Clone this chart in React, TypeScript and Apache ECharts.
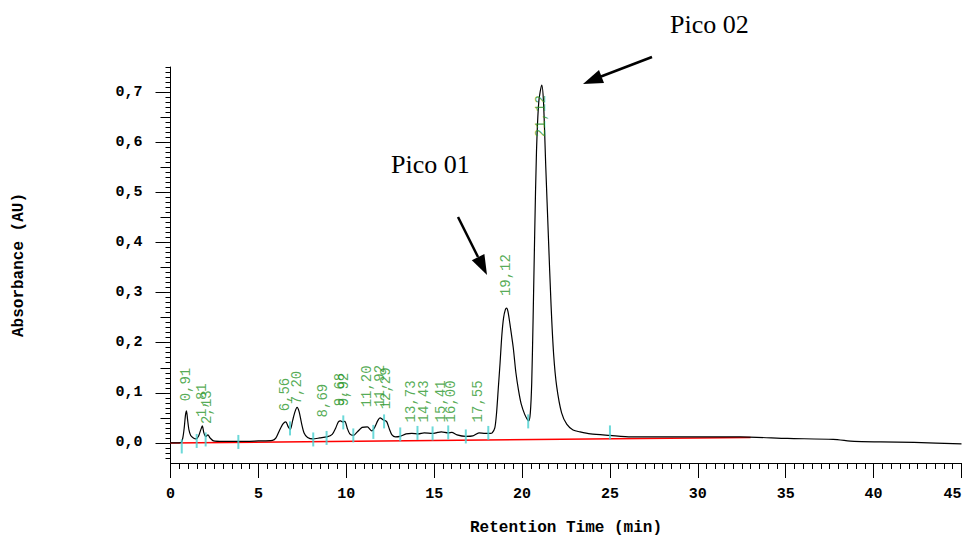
import React, { useEffect, useRef } from "react";
import * as echarts from "echarts";

// Chromatogram trace (retention time in min, absorbance in AU)
const times = [
  0.0, 0.3, 0.6, 0.7, 0.78, 0.85, 0.91, 0.97, 1.05, 1.15, 1.3, 1.45, 1.6, 1.72, 1.81, 1.9, 2.0, 2.13, 2.25, 2.45,
  3.0, 4.0, 5.0, 5.8, 6.0, 6.2, 6.4, 6.56, 6.7, 6.82, 6.95, 7.08, 7.2, 7.32, 7.45, 7.6, 7.8, 8.1, 8.5, 8.9,
  9.2, 9.4, 9.55, 9.68, 9.8, 9.92, 10.05, 10.2, 10.4, 10.6, 10.9, 11.2, 11.45, 11.6, 11.8, 11.92, 12.1, 12.29, 12.45, 12.6,
  12.8, 13.05, 13.4, 13.73, 14.1, 14.43, 14.9, 15.2, 15.41, 15.8, 16.0, 16.3, 16.8, 17.2, 17.55, 17.9, 18.2, 18.3, 18.45, 18.55,
  18.65, 18.75, 18.85, 18.95, 19.05, 19.12, 19.2, 19.32, 19.5, 19.65, 19.8, 19.95, 20.15, 20.3, 20.38, 20.47, 20.55, 20.63, 20.72, 20.82,
  20.95, 21.12, 21.22, 21.35, 21.5, 21.65, 21.8, 21.97, 22.25, 22.55, 22.9, 23.3, 23.9, 25.0, 26.2, 29.0, 32.4, 35.1, 37.7, 38.9,
  40.4, 42.3, 45.0,
];
const absorbance = [
  0.0, 0.0, 0.001, 0.01, 0.03, 0.055, 0.064, 0.047, 0.026, 0.015, 0.01, 0.008, 0.014, 0.026, 0.034, 0.02, 0.013, 0.016, 0.01, 0.004,
  0.003, 0.003, 0.004, 0.005, 0.01, 0.025, 0.038, 0.042, 0.032, 0.027, 0.045, 0.062, 0.071, 0.062, 0.04, 0.02, 0.011, 0.008, 0.01, 0.012,
  0.017, 0.03, 0.042, 0.044, 0.042, 0.043, 0.03, 0.018, 0.015, 0.021, 0.031, 0.032, 0.024, 0.03, 0.045, 0.05, 0.046, 0.043, 0.028, 0.016,
  0.012, 0.013, 0.018, 0.019, 0.018, 0.02, 0.019, 0.021, 0.022, 0.02, 0.021, 0.016, 0.013, 0.014, 0.02, 0.019, 0.019, 0.02, 0.03, 0.06,
  0.11, 0.16, 0.215, 0.25, 0.266, 0.269, 0.262, 0.235, 0.19, 0.14, 0.105, 0.078, 0.057, 0.047, 0.044, 0.06, 0.12, 0.25, 0.42, 0.58,
  0.68, 0.714, 0.68, 0.55, 0.41, 0.275, 0.175, 0.113, 0.06, 0.037, 0.026, 0.022, 0.018, 0.015, 0.012, 0.012, 0.012, 0.009, 0.007, 0.003,
  0.002, 0.001, -0.002,
];

// Integration baseline (red)
const baselineTimes = [0, 33];
const baselineValues = [0, 0.011];

// Integration event marks (cyan)
const eventTimes = [0.64, 1.49, 2.0, 3.86, 6.8, 8.12, 8.88, 9.83, 10.4, 11.54, 12.15, 13.07, 14.05, 14.91, 15.8, 16.8, 18.08, 20.35, 25.0];
const eventValues = [-0.007, 0.004, 0.007, 0.002, 0.029, 0.007, 0.01, 0.041, 0.015, 0.022, 0.043, 0.017, 0.02, 0.019, 0.021, 0.013, 0.02, 0.043, 0.021];

// Peak retention-time labels (green)
const peakLabels = ["0,91", "1,81", "2,13", "6,56", "7,20", "8,69", "9,68", "9,92", "11,20", "11,92", "12,29", "13,73", "14,43", "15,41", "16,00", "17,55", "19,12", "21,12"];
const peakTimes = [0.91, 1.81, 2.13, 6.56, 7.2, 8.69, 9.68, 9.92, 11.2, 11.92, 12.29, 13.73, 14.43, 15.41, 16.0, 17.55, 19.12, 21.12];
const peakLabelBase = [0.082, 0.051, 0.037, 0.062, 0.076, 0.05, 0.072, 0.072, 0.07, 0.071, 0.066, 0.04, 0.04, 0.04, 0.04, 0.04, 0.292, 0.609];

// Axis ticks
const yTickLabels = [0, 0.1, 0.2, 0.3, 0.4, 0.5, 0.6, 0.7];
const yMidTicks = [0.05, 0.15, 0.25, 0.35, 0.45, 0.55, 0.65];

const MONO = "'Liberation Mono', 'Courier New', monospace";
const SERIF = "'Liberation Serif', 'Times New Roman', serif";

export default function App() {
  const ref = useRef<HTMLDivElement>(null);
  useEffect(() => {
    if (!ref.current) return;
    const chart = echarts.init(ref.current, null, { renderer: "svg" });
    const yMinorTicks: number[] = [];
    for (let i = -3; i <= 75; i++) yMinorTicks.push(i / 100);
    const yMin = -0.04;
    const yMax = 0.75;
    const hiddenY = (ticks: number[], len: number) => ({
      type: "value",
      min: yMin,
      max: yMax,
      position: "left",
      axisLine: { show: false },
      axisLabel: { show: false },
      splitLine: { show: false },
      axisTick: { show: true, customValues: ticks, length: len, lineStyle: { color: "#000", width: 1 } },
    });
    chart.setOption({
      animation: false,
      backgroundColor: "#ffffff",
      grid: { left: 170.5, right: 3.5, top: 67, bottom: 74, containLabel: false, outerBoundsMode: "none" },
      xAxis: {
        type: "value",
        min: 0,
        max: 45,
        interval: 5,
        name: "Retention Time (min)",
        nameLocation: "middle",
        nameGap: 57,
        nameTextStyle: { fontFamily: MONO, fontWeight: "bold", fontSize: 16, color: "#000" },
        axisLine: { onZero: false, lineStyle: { color: "#000", width: 1 } },
        axisTick: { length: 15, lineStyle: { color: "#000" } },
        minorTick: { show: true, splitNumber: 10, length: 6, lineStyle: { color: "#000" } },
        axisLabel: {
          fontFamily: MONO,
          fontWeight: "bold",
          fontSize: 15,
          color: "#000",
          margin: 24,
          alignMaxLabel: "right",
        },
        splitLine: { show: false },
      },
      yAxis: [
        {
          type: "value",
          min: yMin,
          max: yMax,
          position: "left",
          name: "Absorbance (AU)",
          nameLocation: "middle",
          nameGap: 144,
          nameTextStyle: { fontFamily: MONO, fontWeight: "bold", fontSize: 16, color: "#000" },
          axisLine: { show: true, onZero: false, lineStyle: { color: "#000", width: 1 } },
          axisTick: { show: true, customValues: yTickLabels, length: 15, lineStyle: { color: "#000" } },
          axisLabel: {
            customValues: yTickLabels,
            fontFamily: MONO,
            fontWeight: "bold",
            fontSize: 15,
            color: "#000",
            margin: 28,
            formatter: (v: number) => v.toFixed(1).replace(".", ","),
          },
          splitLine: { show: false },
        },
        hiddenY(yMidTicks, 10),
        hiddenY(yMinorTicks, 5),
      ],
      series: [
        {
          type: "line",
          data: baselineTimes.map((t, i) => [t, baselineValues[i]]),
          symbol: "none",
          lineStyle: { color: "#ff0000", width: 1.5 },
          z: 2,
          silent: true,
        },
        {
          type: "line",
          data: times.map((t, i) => [t, absorbance[i]]),
          symbol: "none",
          smooth: 0.25,
          lineStyle: { color: "#000", width: 1.2 },
          z: 3,
          silent: true,
        },
        {
          type: "scatter",
          data: eventTimes.map((t, i) => [t, eventValues[i]]),
          symbol: "rect",
          symbolSize: [2, 14],
          itemStyle: { color: "#48d0d0" },
          z: 4,
          silent: true,
        },
        {
          type: "scatter",
          data: peakTimes.map((t, i) => [t, peakLabelBase[i]]),
          symbolSize: 1,
          itemStyle: { color: "transparent" },
          z: 5,
          silent: true,
          label: {
            show: true,
            position: [0, 0],
            rotate: 90,
            align: "left",
            verticalAlign: "middle",
            fontFamily: MONO,
            fontSize: 14,
            color: "#2a962a",
            formatter: (p: any) => peakLabels[p.dataIndex],
          },
        },
      ],
      graphic: [
        { type: "text", x: 670, y: 24, style: { text: "Pico 02", font: `26px ${SERIF}`, fill: "#000", verticalAlign: "middle" } },
        { type: "text", x: 391, y: 164, style: { text: "Pico 01", font: `26px ${SERIF}`, fill: "#000", verticalAlign: "middle" } },
        { type: "line", shape: { x1: 652, y1: 57, x2: 601, y2: 76.5 }, style: { stroke: "#000", lineWidth: 2.5 } },
        { type: "polygon", shape: { points: [[583, 84], [604, 83], [599, 70]] }, style: { fill: "#000" } },
        { type: "line", shape: { x1: 458, y1: 217, x2: 478, y2: 257 }, style: { stroke: "#000", lineWidth: 2.5 } },
        { type: "polygon", shape: { points: [[487, 275], [484.4, 254], [471.8, 260.2]] }, style: { fill: "#000" } },
      ],
    });
    return () => chart.dispose();
  }, []);
  return <div ref={ref} style={{ position: "fixed", left: 0, top: 0, width: 965, height: 537 }} />;
}
